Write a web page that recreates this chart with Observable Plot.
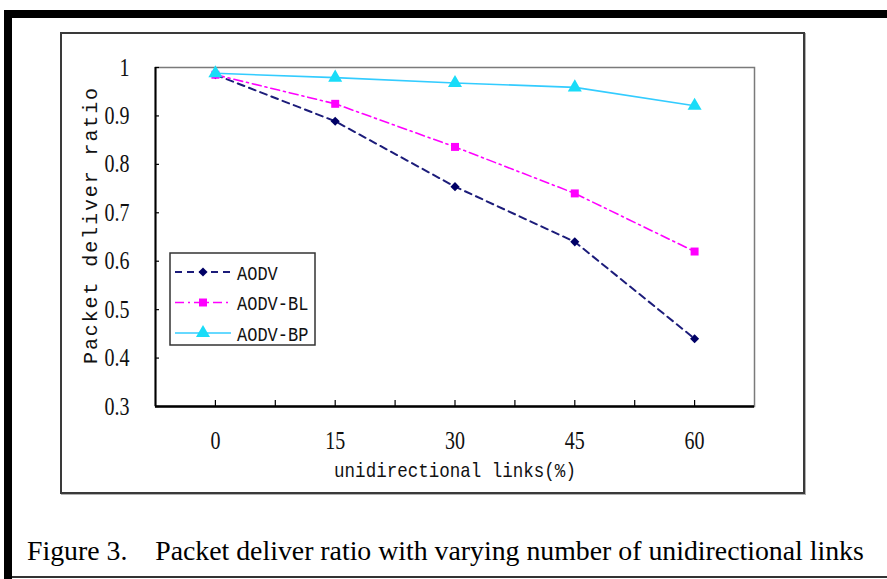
<!DOCTYPE html>
<html>
<head>
<meta charset="utf-8">
<script src="https://cdn.jsdelivr.net/npm/d3@7"></script>
<script src="https://cdn.jsdelivr.net/npm/@observablehq/plot@0.6"></script>
<style>
  html, body { margin: 0; padding: 0; background: #fff; }
  #page { position: relative; width: 887px; height: 579px; overflow: hidden; background: #fff; }
  #chart { position: absolute; left: 0; top: 0; }
  .bar { position: absolute; background: #000; }
  #box { position: absolute; left: 60px; top: 32px; width: 741px; height: 458px;
         border: 2px solid #3a3a3a; box-shadow: 1px 1px 0 #b0b0b0; }
  #caption { position: absolute; left: 27px; top: 535px; font-family: "Liberation Serif", serif;
             font-size: 27.8px; white-space: pre; color: #000; }
</style>
</head>
<body>
<div id="page">
  <div id="chart"></div>
  <div class="bar" style="left:4px;top:10px;width:883px;height:8px"></div>
  <div class="bar" style="left:4px;top:10px;width:8px;height:569px"></div>
  <div class="bar" style="left:12px;top:576px;width:875px;height:2px;background:#333"></div>
  <div id="box"></div>
  <div id="caption">Figure 3.    Packet deliver ratio with varying number of unidirectional links</div>
</div>
<script>
// Percentage of unidirectional links on the x axis
const categories = [0, 15, 30, 45, 60];
// Packet delivery ratio per protocol
const aodv   = [0.985, 0.889, 0.754, 0.640, 0.440];
const aodvBL = [0.985, 0.925, 0.836, 0.740, 0.620];
const aodvBP = [0.988, 0.979, 0.968, 0.959, 0.921];
const seriesNames = ["AODV", "AODV-BL", "AODV-BP"];

const yTicks = [0.3, 0.4, 0.5, 0.6, 0.7, 0.8, 0.9, 1];
const yTickLabels = ["0.3", "0.4", "0.5", "0.6", "0.7", "0.8", "0.9", "1"];
const xTickLabels = ["0", "15", "30", "45", "60"];
const xMinorTicks = [0, 7.5, 15, 22.5, 30, 37.5, 45, 52.5, 60];
const xTitle = "unidirectional links(%)";
const yTitle = "Packet deliver ratio";

// Drawing styles per series
const styles = {
  "AODV":    { stroke: "#1c1c7a", fill: "#000066", dash: "7,5", width: 2, symbol: d3.symbolDiamond2 || d3.symbolDiamond, r: 4.1 },
  "AODV-BL": { stroke: "#ff00ff", fill: "#ff00ff", dash: "9,4,2,4", width: 1.6, symbol: d3.symbolSquare, r: 4.5 },
  "AODV-BP": { stroke: "#33ccff", fill: "#19dcf8", dash: null, width: 1.6, symbol: d3.symbolTriangle, r: 5.2 }
};
const values = { "AODV": aodv, "AODV-BL": aodvBL, "AODV-BP": aodvBP };
const rows = seriesNames.flatMap(s => categories.map((c, i) => ({ series: s, x: c, y: values[s][i] })));

const xDomain = [-7.5, 67.5];
const yDomain = [0.3, 1];
const tickFont = "Liberation Serif";
const labelFont = "Liberation Mono";

const seriesMarks = seriesNames.flatMap(s => {
  const st = styles[s];
  const data = rows.filter(d => d.series === s);
  return [
    Plot.line(data, { x: "x", y: "y", stroke: st.stroke, strokeWidth: st.width, strokeDasharray: st.dash }),
    Plot.dot(data, { x: "x", y: "y", symbol: () => st.symbol, fill: st.fill, stroke: "none", r: st.r })
  ];
});

const chart = Plot.plot({
  width: 887,
  height: 579,
  marginLeft: 155,
  marginRight: 133,
  marginTop: 67,
  marginBottom: 173,
  style: { background: "transparent", overflow: "visible" },
  x: { domain: xDomain, axis: null },
  y: { domain: yDomain, axis: null },
  symbol: { type: "identity" },
  marks: [
    Plot.frame({ stroke: "#7a7a7a", strokeWidth: 1.5 }),
    Plot.ruleX([xDomain[0]], { stroke: "#000", strokeWidth: 2 }),
    Plot.ruleY([yDomain[0]], { stroke: "#000", strokeWidth: 2.5 }),
    // inward tick marks
    Plot.ruleY(yTicks, { y: d => d, x1: xDomain[0], x2: xDomain[0], insetRight: -4, stroke: "#000", strokeWidth: 1.2 }),
    Plot.ruleX(xMinorTicks, { x: d => d, y1: yDomain[0], y2: yDomain[0], insetBottom: 6, stroke: "#000", strokeWidth: 1.2 }),
    // tick labels
    Plot.text(yTicks, { x: xDomain[0], y: d => d, text: (d, i) => yTickLabels[i], textAnchor: "end", dx: -26,
      fontFamily: tickFont, fontSize: 25, fill: "#111", ariaDescription: "ylabels" }),
    Plot.text(categories, { x: d => d, y: yDomain[0], text: (d, i) => xTickLabels[i], dy: 34,
      fontFamily: tickFont, fontSize: 25, fill: "#111", ariaDescription: "xlabels" }),
    // axis titles
    Plot.text([xTitle], { frameAnchor: "bottom", text: d => d, dy: 70, fontFamily: labelFont, fontSize: 21,
      fill: "#111", ariaDescription: "xtitle" }),
    Plot.text([yTitle], { frameAnchor: "left", textAnchor: "middle", text: d => d, dx: -65, dy: -12, rotate: -90,
      fontFamily: labelFont, fontSize: 20, fill: "#111", ariaDescription: "ytitle" }),
    ...seriesMarks
  ]
});
document.getElementById("chart").appendChild(chart);

// Condense glyphs horizontally around each label's anchor
function squeeze(label, sx) {
  d3.select(chart).selectAll(`g[aria-description="${label}"] text`).each(function () {
    const t = this.getAttribute("transform") || "";
    this.setAttribute("transform", `${t} scale(${sx},1)`);
  });
}
squeeze("ylabels", 0.8);
squeeze("xlabels", 0.8);
squeeze("xtitle", 0.835);
d3.select(chart).selectAll('g[aria-description="ytitle"] text').attr("letter-spacing", "1.9px");

// Legend box
const legend = d3.select(chart).append("g").attr("transform", "translate(170,253)");
legend.append("rect").attr("width", 145).attr("height", 92)
  .attr("fill", "#fff").attr("stroke", "#333").attr("stroke-width", 1.5);
seriesNames.forEach((s, i) => {
  const st = styles[s];
  const row = legend.append("g").attr("transform", `translate(0,${19 + i * 30.5})`);
  row.append("line").attr("x1", 5).attr("x2", 61).attr("y1", 0).attr("y2", 0)
    .attr("stroke", st.stroke).attr("stroke-width", st.width).attr("stroke-dasharray", st.dash);
  row.append("path").attr("transform", "translate(33,0)")
    .attr("d", d3.symbol(st.symbol, Math.PI * st.r * st.r)()).attr("fill", st.fill);
  row.append("text").attr("text-anchor", "start").attr("dy", "0.36em")
    .attr("font-family", labelFont).attr("font-size", 21).attr("fill", "#111")
    .attr("transform", "translate(67,0) scale(0.81,1)").text(s);
});
</script>
</body>
</html>
